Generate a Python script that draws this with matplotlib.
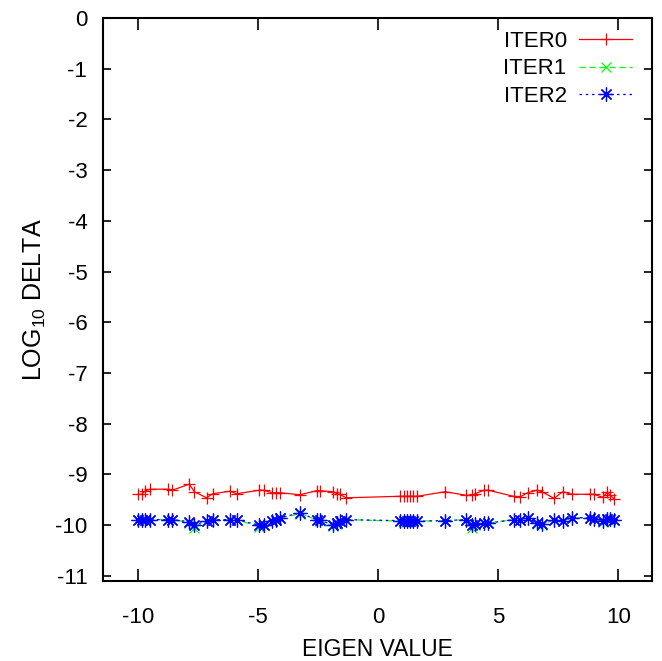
import matplotlib
matplotlib.use('Agg')
import matplotlib.pyplot as plt
import numpy as np

# eigen values (shared by all three iterations)
eig = [-10.0, -9.85, -9.72, -9.51, -8.75, -8.57, -7.87, -7.66, -7.15, -6.9,
       -6.18, -5.9, -4.95, -4.78, -4.42, -4.26, -4.1, -3.26, -2.57, -2.43,
       -1.87, -1.72, -1.6, -1.35, 0.9, 1.05, 1.18, 1.3, 1.45, 1.62,
       2.78, 3.65, 3.92, 4.03, 4.4, 4.58, 5.63, 5.88, 6.22, 6.62,
       6.81, 7.32, 7.68, 8.06, 8.82, 8.98, 9.35, 9.54, 9.65, 9.83]

iter0 = [-9.39, -9.39, -9.33, -9.29, -9.29, -9.31, -9.19, -9.34, -9.46, -9.38,
         -9.33, -9.38, -9.31, -9.31, -9.36, -9.36, -9.36, -9.40, -9.32, -9.32,
         -9.34, -9.38, -9.39, -9.46, -9.43, -9.43, -9.43, -9.43, -9.43, -9.43,
         -9.34, -9.41, -9.41, -9.38, -9.31, -9.31, -9.43, -9.45, -9.36, -9.31,
         -9.34, -9.47, -9.34, -9.39, -9.39, -9.39, -9.45, -9.34, -9.41, -9.49]

iter1 = [-9.90, -9.89, -9.90, -9.89, -9.89, -9.89, -9.95, -10.05, -9.92, -9.89,
         -9.89, -9.89, -10.03, -10.0, -9.92, -9.89, -9.86, -9.77, -9.89, -9.91,
         -10.02, -9.97, -9.92, -9.89, -9.92, -9.93, -9.93, -9.92, -9.91, -9.92,
         -9.91, -9.89, -10.05, -9.99, -9.96, -9.96, -9.89, -9.89, -9.86, -9.98,
         -9.99, -9.89, -9.92, -9.85, -9.86, -9.88, -9.93, -9.87, -9.89, -9.89]

iter2 = [-9.89, -9.89, -9.89, -9.89, -9.89, -9.89, -9.93, -10.0, -9.91, -9.89,
         -9.89, -9.89, -10.0, -10.0, -9.91, -9.89, -9.85, -9.76, -9.89, -9.9,
         -10.0, -9.96, -9.92, -9.89, -9.91, -9.91, -9.92, -9.92, -9.91, -9.92,
         -9.91, -9.89, -10.0, -9.98, -9.96, -9.96, -9.89, -9.89, -9.85, -9.96,
         -9.97, -9.89, -9.91, -9.85, -9.85, -9.87, -9.91, -9.87, -9.88, -9.89]

xticks = [-10, -5, 0, 5, 10]
yticks = list(range(0, -12, -1))

plt.rcParams['axes.unicode_minus'] = False
plt.rcParams['font.family'] = ['Liberation Sans', 'DejaVu Sans']
plt.rcParams['mathtext.fontset'] = 'custom'
plt.rcParams['mathtext.rm'] = 'Liberation Sans'
plt.rcParams['mathtext.default'] = 'regular'

fig = plt.figure(figsize=(6.62, 6.61), dpi=100)
ax = fig.add_axes([0.155, 0.121, 0.830, 0.852])

ax.plot(eig, iter0, color='#ff0000', lw=0.9, marker='+', ms=9, mew=0.9, label='ITER0')
ax.plot(eig, iter1, color='#00ff00', lw=0.9, ls=(0, (5, 3)), marker='x', ms=7, mew=0.9, label='ITER1')
ax.plot(eig, iter2, color='#0000ff', lw=0.9, ls=(0, (2, 3)), marker=(8, 2, 0), ms=10, mew=0.9, label='ITER2')

ax.set_xlim(-11.48, 11.4)
ax.set_ylim(-11.1, 0)
ax.set_xticks(xticks)
ax.set_yticks(yticks)
ax.tick_params(axis='both', direction='in', top=True, right=True, labelsize=16, width=1.2)
ax.tick_params(axis='x', length=8.5, pad=19)
ax.tick_params(axis='y', length=6, pad=11)
for s in ax.spines.values():
    s.set_linewidth(1.5)

ax.set_xlabel('EIGEN VALUE', fontsize=16.5, labelpad=7)
ax.set_ylabel(r'LOG$_{10}$ DELTA', fontsize=18, labelpad=5)

ax.legend(loc='upper right', bbox_to_anchor=(0.964, 0.977), frameon=False, markerfirst=False,
          fontsize=16, handlelength=2.4, handletextpad=0.55, labelspacing=0.3,
          borderpad=0, borderaxespad=0)

fig.savefig('out.png', dpi=100)
